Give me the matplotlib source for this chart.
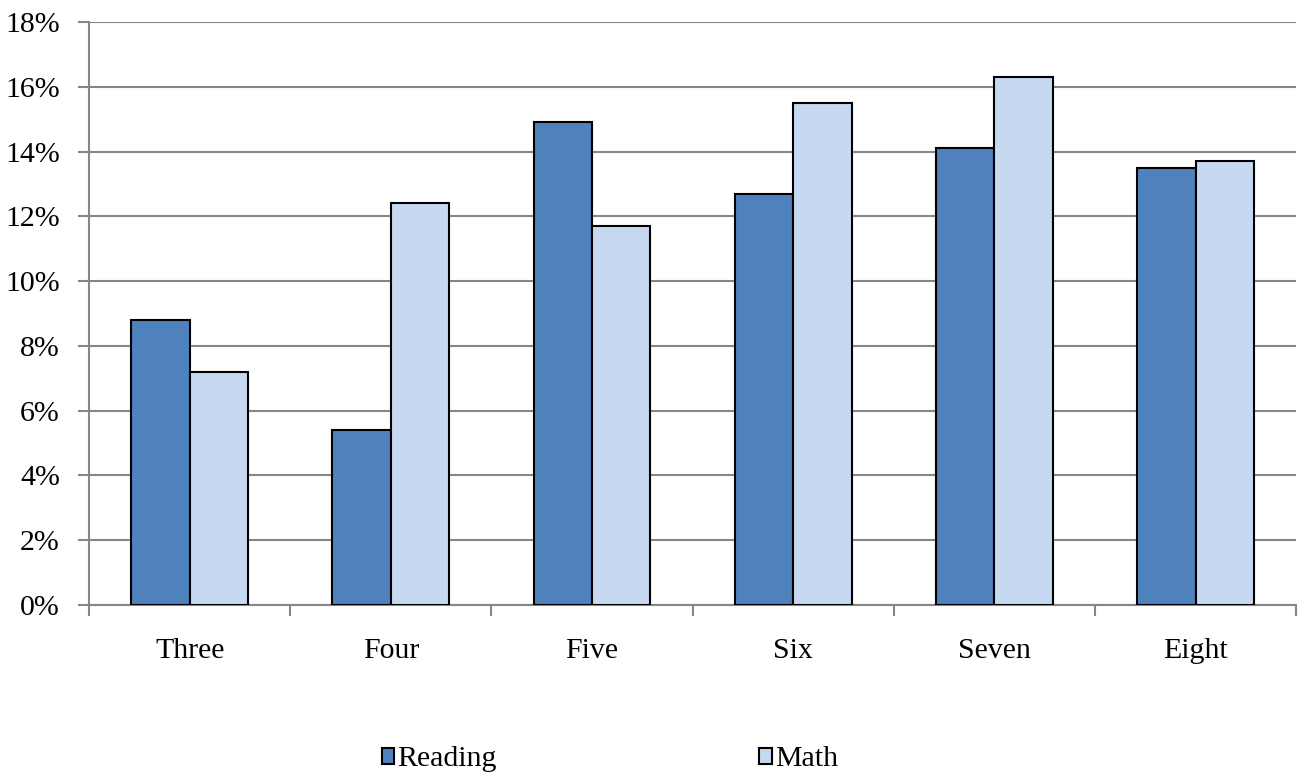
import numpy as np
import matplotlib
matplotlib.use('Agg')
import matplotlib.pyplot as plt
from matplotlib.ticker import PercentFormatter

grades = ['Three', 'Four', 'Five', 'Six', 'Seven', 'Eight']
reading = [8.8, 5.4, 14.9, 12.7, 14.1, 13.5]
math = [7.2, 12.4, 11.7, 15.5, 16.3, 13.7]

plt.rcParams['font.family'] = ['Liberation Serif', 'DejaVu Serif']
plt.rcParams['font.size'] = 21.5

grid_col = '#868686'

fig = plt.figure(figsize=(13, 7.75), dpi=100)
ax = fig.add_axes([0.0685, 0.2194, 0.9285, 0.7522])

x = np.arange(len(grades))
w = 0.29
ax.bar(x - w / 2, reading, w, color='#4F81BD', edgecolor='black', linewidth=1.5, label='Reading', zorder=3)
ax.bar(x + w / 2, math, w, color='#C6D9F1', edgecolor='black', linewidth=1.5, label='Math', zorder=3)

ax.set_ylim(0, 18)
ax.set_xlim(-0.5, len(grades) - 0.5)
ax.set_yticks(np.arange(0, 19, 2))
ax.yaxis.set_major_formatter(PercentFormatter(decimals=0))
ax.yaxis.grid(True, color=grid_col, linewidth=1.5, zorder=0)

ax.set_xticks(x)
ax.set_xticklabels(grades)
ax.set_xticks(np.arange(-0.5, len(grades)), minor=True)
ax.tick_params(axis='x', which='major', length=0, pad=24)
ax.tick_params(axis='x', which='minor', length=8, width=1.5, color=grid_col)
ax.tick_params(axis='y', length=8, width=1.5, color=grid_col, pad=13)

for s in ['top', 'right']:
    ax.spines[s].set_visible(False)
for s in ['left', 'bottom']:
    ax.spines[s].set_color(grid_col)
    ax.spines[s].set_linewidth(1.5)

fig.legend(loc='center', bbox_to_anchor=(0.469, 0.02), ncol=2, frameon=False,
           handlelength=0.42, handleheight=0.42, handletextpad=0.1, columnspacing=8.8)

fig.savefig('out.png', dpi=100)
